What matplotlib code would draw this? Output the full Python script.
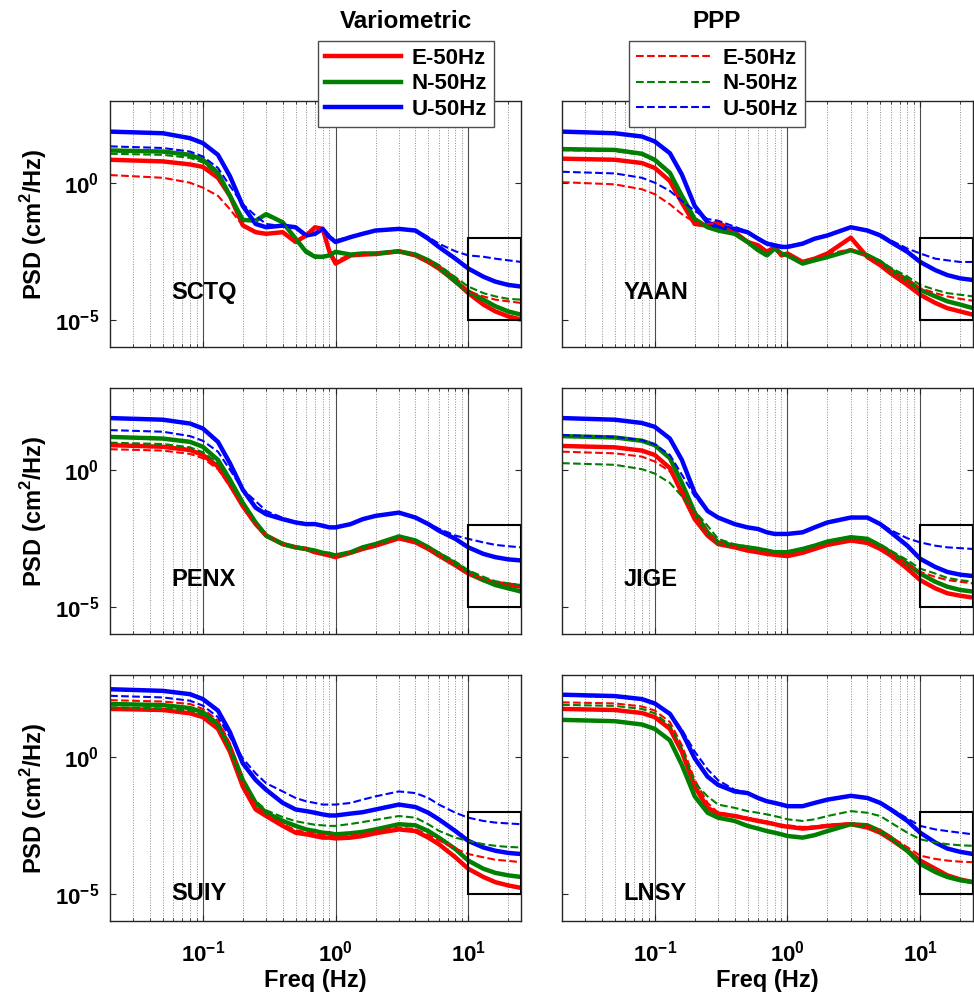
import numpy as np
import matplotlib.pyplot as plt
from matplotlib.patches import Rectangle
from matplotlib.lines import Line2D
from matplotlib.ticker import NullLocator, LogLocator

plt.rcParams['font.family'] = ['Liberation Sans', 'DejaVu Sans']
plt.rcParams['font.weight'] = 'bold'
plt.rcParams['axes.labelweight'] = 'bold'

# frequency grid (Hz) shared by all spectra
freq = [0.02, 0.05, 0.08, 0.1, 0.13, 0.16, 0.2, 0.25, 0.3, 0.4, 0.5, 0.6, 0.7, 0.8, 0.9,
        1.0, 1.3, 1.6, 2, 3, 4, 5, 6, 8, 10, 13, 16, 20, 25]

# log10 PSD (cm^2/Hz), variometric (solid) and PPP (dashed), E/N/U
sctq_var_e = [0.85, 0.79, 0.68, 0.59, 0.19, -0.47, -1.55, -1.8, -1.86, -1.8, -2.16, -1.92, -1.62, -1.68, -2.52, -2.95, -2.65, -2.62, -2.6, -2.5, -2.65, -2.89, -3.13, -3.6, -4.03, -4.45, -4.7, -4.88, -5.0]
sctq_var_n = [1.19, 1.15, 1.03, 0.85, 0.37, -0.47, -1.35, -1.38, -1.14, -1.44, -2.04, -2.52, -2.7, -2.7, -2.65, -2.52, -2.62, -2.58, -2.58, -2.5, -2.62, -2.83, -3.07, -3.61, -3.97, -4.27, -4.51, -4.7, -4.82]
sctq_var_u = [1.88, 1.82, 1.64, 1.46, 1.03, 0.25, -0.84, -1.5, -1.62, -1.56, -1.62, -1.92, -1.86, -1.68, -1.98, -2.16, -1.98, -1.86, -1.74, -1.68, -1.74, -2.04, -2.34, -2.77, -3.13, -3.43, -3.61, -3.73, -3.79]
sctq_ppp_e = [0.29, 0.19, 0.01, -0.17, -0.47, -0.96, -1.56, -1.8, -1.84, -1.82, -2.1, -1.95, -1.7, -1.72, -2.45, -2.85, -2.62, -2.6, -2.58, -2.48, -2.62, -2.85, -3.05, -3.45, -3.97, -4.15, -4.27, -4.33, -4.39]
sctq_ppp_n = [1.07, 1.03, 0.92, 0.75, 0.3, -0.5, -1.35, -1.4, -1.2, -1.45, -2.0, -2.45, -2.65, -2.68, -2.62, -2.55, -2.6, -2.56, -2.56, -2.48, -2.6, -2.8, -3.0, -3.45, -3.79, -4.03, -4.15, -4.24, -4.27]
sctq_ppp_u = [1.34, 1.28, 1.15, 0.97, 0.55, -0.11, -0.78, -1.2, -1.5, -1.58, -1.65, -1.9, -1.85, -1.7, -1.95, -2.1, -1.95, -1.84, -1.72, -1.66, -1.72, -1.98, -2.22, -2.5, -2.65, -2.7, -2.77, -2.83, -2.89]

yaan_var_e = [0.89, 0.85, 0.73, 0.55, 0.07, -0.72, -1.5, -1.56, -1.44, -1.8, -2.16, -2.28, -2.52, -2.34, -2.65, -2.58, -2.89, -2.77, -2.58, -2.0, -2.71, -3.01, -3.31, -3.73, -4.09, -4.39, -4.58, -4.7, -4.82]
yaan_var_n = [1.24, 1.21, 1.07, 0.85, 0.37, -0.47, -1.32, -1.62, -1.74, -1.86, -2.16, -2.46, -2.65, -2.4, -2.58, -2.65, -2.95, -2.83, -2.71, -2.46, -2.65, -2.89, -3.19, -3.55, -3.91, -4.15, -4.33, -4.45, -4.58]
yaan_var_u = [1.88, 1.82, 1.7, 1.52, 1.09, 0.31, -0.84, -1.44, -1.62, -1.68, -1.8, -2.04, -2.22, -2.28, -2.34, -2.34, -2.22, -2.04, -1.92, -1.62, -1.74, -1.92, -2.16, -2.52, -2.89, -3.19, -3.37, -3.49, -3.55]
yaan_ppp_e = [0.03, -0.05, -0.23, -0.41, -0.78, -1.14, -1.44, -1.5, -1.48, -1.82, -2.12, -2.3, -2.48, -2.38, -2.6, -2.6, -2.85, -2.75, -2.6, -2.42, -2.68, -2.95, -3.2, -3.55, -3.85, -4.03, -4.15, -4.24, -4.31]
yaan_ppp_n = [1.2, 1.17, 1.03, 0.8, 0.32, -0.5, -1.3, -1.58, -1.7, -1.84, -2.12, -2.4, -2.6, -2.42, -2.56, -2.62, -2.9, -2.8, -2.68, -2.44, -2.62, -2.85, -3.1, -3.42, -3.73, -3.91, -4.03, -4.09, -4.15]
yaan_ppp_u = [0.41, 0.35, 0.19, 0.01, -0.29, -0.66, -1.02, -1.32, -1.38, -1.6, -1.78, -2.0, -2.18, -2.25, -2.3, -2.3, -2.2, -2.02, -1.9, -1.62, -1.72, -1.88, -2.1, -2.4, -2.58, -2.77, -2.83, -2.89, -2.89]

penx_var_e = [0.91, 0.85, 0.73, 0.55, 0.13, -0.53, -1.32, -1.98, -2.4, -2.71, -2.83, -2.89, -3.01, -3.07, -3.13, -3.19, -3.03, -2.89, -2.77, -2.5, -2.65, -2.89, -3.13, -3.49, -3.79, -4.03, -4.15, -4.21, -4.27]
penx_var_n = [1.21, 1.15, 1.03, 0.85, 0.37, -0.35, -1.2, -1.92, -2.4, -2.71, -2.83, -2.89, -2.95, -3.03, -3.07, -3.13, -3.01, -2.83, -2.71, -2.43, -2.58, -2.83, -3.07, -3.43, -3.73, -4.03, -4.21, -4.33, -4.45]
penx_var_u = [1.9, 1.84, 1.7, 1.52, 1.03, 0.25, -0.72, -1.38, -1.62, -1.8, -1.92, -1.98, -1.98, -2.04, -2.1, -2.1, -1.98, -1.8, -1.68, -1.56, -1.74, -1.98, -2.22, -2.52, -2.83, -3.07, -3.19, -3.27, -3.31]
penx_ppp_e = [0.76, 0.71, 0.59, 0.43, 0.03, -0.6, -1.35, -1.98, -2.38, -2.7, -2.82, -2.88, -3.0, -3.05, -3.1, -3.15, -3.0, -2.87, -2.75, -2.5, -2.64, -2.87, -3.1, -3.45, -3.79, -3.97, -4.09, -4.15, -4.21]
penx_ppp_n = [1.0, 0.95, 0.83, 0.65, 0.25, -0.42, -1.22, -1.9, -2.38, -2.7, -2.82, -2.88, -2.95, -3.02, -3.06, -3.1, -3.0, -2.82, -2.7, -2.44, -2.58, -2.8, -3.02, -3.35, -3.67, -3.91, -4.07, -4.15, -4.21]
penx_ppp_u = [1.46, 1.4, 1.24, 1.07, 0.67, 0.01, -0.72, -1.14, -1.5, -1.75, -1.9, -1.96, -1.97, -2.02, -2.08, -2.08, -1.96, -1.8, -1.68, -1.56, -1.72, -1.95, -2.15, -2.4, -2.52, -2.65, -2.74, -2.79, -2.83]

jige_var_e = [0.88, 0.83, 0.71, 0.55, 0.07, -0.84, -1.8, -2.4, -2.71, -2.83, -2.95, -3.01, -3.07, -3.1, -3.13, -3.15, -3.03, -2.89, -2.74, -2.58, -2.67, -2.89, -3.13, -3.61, -4.03, -4.33, -4.51, -4.6, -4.67]
jige_var_n = [1.24, 1.19, 1.07, 0.91, 0.43, -0.47, -1.56, -2.28, -2.65, -2.77, -2.83, -2.89, -2.95, -3.01, -3.01, -3.01, -2.89, -2.77, -2.62, -2.46, -2.52, -2.77, -3.01, -3.43, -3.79, -4.09, -4.27, -4.39, -4.45]
jige_var_u = [1.9, 1.84, 1.72, 1.58, 1.15, 0.37, -0.84, -1.5, -1.74, -1.98, -2.1, -2.16, -2.28, -2.34, -2.34, -2.34, -2.28, -2.1, -1.92, -1.74, -1.74, -1.98, -2.28, -2.77, -3.25, -3.55, -3.73, -3.83, -3.88]
jige_ppp_e = [0.67, 0.61, 0.49, 0.31, -0.05, -0.72, -1.6, -2.3, -2.65, -2.8, -2.92, -2.98, -3.04, -3.07, -3.1, -3.12, -3.0, -2.86, -2.72, -2.56, -2.64, -2.85, -3.05, -3.45, -3.73, -3.91, -4.03, -4.09, -4.15]
jige_ppp_n = [0.25, 0.19, 0.03, -0.13, -0.47, -0.96, -1.5, -2.04, -2.52, -2.72, -2.8, -2.86, -2.92, -2.98, -2.98, -2.98, -2.86, -2.74, -2.6, -2.44, -2.5, -2.72, -2.95, -3.3, -3.61, -3.79, -3.95, -4.03, -4.09]
jige_ppp_u = [1.28, 1.21, 1.09, 0.94, 0.55, -0.17, -0.96, -1.5, -1.72, -1.96, -2.08, -2.14, -2.26, -2.32, -2.32, -2.32, -2.26, -2.08, -1.9, -1.72, -1.72, -1.95, -2.2, -2.5, -2.65, -2.77, -2.83, -2.86, -2.89]

suiy_var_e = [1.76, 1.72, 1.6, 1.46, 1.03, 0.19, -1.08, -1.92, -2.16, -2.52, -2.77, -2.83, -2.89, -2.95, -2.95, -2.98, -2.95, -2.89, -2.79, -2.65, -2.71, -2.95, -3.19, -3.67, -4.09, -4.39, -4.58, -4.7, -4.79]
suiy_var_n = [1.94, 1.9, 1.79, 1.64, 1.21, 0.37, -0.84, -1.68, -2.04, -2.34, -2.52, -2.65, -2.71, -2.77, -2.79, -2.83, -2.79, -2.74, -2.65, -2.46, -2.5, -2.71, -2.95, -3.37, -3.79, -4.09, -4.24, -4.33, -4.39]
suiy_var_u = [2.48, 2.42, 2.3, 2.12, 1.7, 0.91, -0.23, -0.84, -1.2, -1.68, -1.92, -1.98, -2.04, -2.1, -2.14, -2.14, -2.07, -2.02, -1.92, -1.74, -1.83, -2.04, -2.28, -2.71, -3.07, -3.31, -3.43, -3.51, -3.55]
suiy_ppp_e = [2.08, 2.03, 1.94, 1.76, 1.34, 0.5, -0.9, -1.8, -2.1, -2.45, -2.68, -2.75, -2.8, -2.85, -2.87, -2.9, -2.88, -2.82, -2.72, -2.58, -2.64, -2.85, -3.05, -3.35, -3.55, -3.67, -3.76, -3.8, -3.85]
suiy_ppp_n = [1.82, 1.78, 1.7, 1.54, 1.12, 0.3, -0.9, -1.6, -1.95, -2.2, -2.35, -2.42, -2.48, -2.5, -2.52, -2.52, -2.45, -2.38, -2.3, -2.16, -2.22, -2.46, -2.7, -2.95, -3.07, -3.19, -3.25, -3.29, -3.31]
suiy_ppp_u = [2.24, 2.18, 2.06, 1.88, 1.46, 0.73, -0.05, -0.6, -0.96, -1.26, -1.5, -1.62, -1.68, -1.74, -1.74, -1.74, -1.68, -1.56, -1.44, -1.26, -1.32, -1.5, -1.74, -2.04, -2.22, -2.34, -2.4, -2.43, -2.46]

lnsy_var_e = [1.76, 1.72, 1.61, 1.46, 1.03, 0.19, -1.08, -1.86, -2.07, -2.16, -2.26, -2.34, -2.4, -2.46, -2.52, -2.55, -2.62, -2.58, -2.52, -2.46, -2.58, -2.77, -3.01, -3.43, -3.79, -4.09, -4.33, -4.48, -4.58]
lnsy_var_n = [1.36, 1.31, 1.19, 1.03, 0.61, -0.29, -1.44, -2.04, -2.22, -2.34, -2.52, -2.62, -2.71, -2.77, -2.83, -2.89, -2.95, -2.86, -2.71, -2.46, -2.5, -2.71, -2.95, -3.43, -3.91, -4.21, -4.39, -4.51, -4.58]
lnsy_var_u = [2.28, 2.23, 2.12, 1.96, 1.58, 0.91, -0.05, -0.72, -1.02, -1.26, -1.32, -1.5, -1.62, -1.68, -1.74, -1.8, -1.8, -1.68, -1.56, -1.42, -1.5, -1.68, -1.92, -2.34, -2.77, -3.13, -3.35, -3.47, -3.55]
lnsy_ppp_e = [2.0, 1.96, 1.85, 1.7, 1.28, 0.43, -0.84, -1.68, -2.04, -2.12, -2.22, -2.3, -2.36, -2.42, -2.48, -2.5, -2.56, -2.54, -2.48, -2.42, -2.52, -2.7, -2.92, -3.3, -3.61, -3.73, -3.79, -3.83, -3.85]
lnsy_ppp_n = [1.91, 1.87, 1.76, 1.6, 1.15, 0.31, -0.96, -1.44, -1.74, -1.86, -1.98, -2.04, -2.1, -2.16, -2.22, -2.28, -2.34, -2.28, -2.16, -1.98, -2.04, -2.16, -2.4, -2.77, -3.01, -3.13, -3.19, -3.23, -3.25]
lnsy_ppp_u = [2.25, 2.2, 2.09, 1.94, 1.6, 1.0, 0.2, -0.45, -0.85, -1.2, -1.3, -1.48, -1.6, -1.66, -1.72, -1.78, -1.78, -1.66, -1.54, -1.4, -1.48, -1.65, -1.88, -2.25, -2.52, -2.65, -2.71, -2.77, -2.83]

stations = ['SCTQ', 'YAAN', 'PENX', 'JIGE', 'SUIY', 'LNSY']
label_level = [1e-4, 1e-4, 1e-4, 1e-4, 1e-5, 1e-5]
components = ['E-50Hz', 'N-50Hz', 'U-50Hz']
colors = ['#ff0000', '#007f00', '#0000ff']

spectra = {
    'SCTQ': ([sctq_var_e, sctq_var_n, sctq_var_u], [sctq_ppp_e, sctq_ppp_n, sctq_ppp_u]),
    'YAAN': ([yaan_var_e, yaan_var_n, yaan_var_u], [yaan_ppp_e, yaan_ppp_n, yaan_ppp_u]),
    'PENX': ([penx_var_e, penx_var_n, penx_var_u], [penx_ppp_e, penx_ppp_n, penx_ppp_u]),
    'JIGE': ([jige_var_e, jige_var_n, jige_var_u], [jige_ppp_e, jige_ppp_n, jige_ppp_u]),
    'SUIY': ([suiy_var_e, suiy_var_n, suiy_var_u], [suiy_ppp_e, suiy_ppp_n, suiy_ppp_u]),
    'LNSY': ([lnsy_var_e, lnsy_var_n, lnsy_var_u], [lnsy_ppp_e, lnsy_ppp_n, lnsy_ppp_u]),
}

fig = plt.figure(figsize=(9.74, 9.99), dpi=100)

col_left = [0.113, 0.577]
row_bottom = [0.6527, 0.3654, 0.0781]
ax_w, ax_h = 0.422, 0.2462

for i, name in enumerate(stations):
    row, col = divmod(i, 2)
    ax = fig.add_axes([col_left[col], row_bottom[row], ax_w, ax_h])
    var_sets, ppp_sets = spectra[name]
    for vals, c in zip(var_sets, colors):
        ax.plot(freq, 10 ** np.array(vals), color=c, lw=3.2, solid_capstyle='butt')
    for vals, c in zip(ppp_sets, colors):
        ax.plot(freq, 10 ** np.array(vals), color=c, lw=1.5, ls='--')

    ax.set_xscale('log')
    ax.set_yscale('log')
    ax.set_xlim(0.02, 25)
    ax.set_ylim(1e-6, 1e3)
    ax.set_xticks([0.1, 1, 10])
    ax.xaxis.set_minor_locator(LogLocator(base=10, subs=np.arange(2, 10)))
    ax.set_yticks([1e-5, 1])
    ax.yaxis.set_minor_locator(NullLocator())

    ax.set_axisbelow(True)
    ax.grid(which='major', axis='x', color='0.3', lw=0.8, ls='-')
    ax.grid(which='minor', axis='x', color='0.55', lw=0.7, ls=':')
    ax.grid(which='major', axis='y', visible=False)

    ax.tick_params(which='both', direction='in', top=True, right=True,
                   labelsize=16, color='0.15')
    ax.tick_params(which='major', length=4)
    ax.tick_params(which='minor', length=2)
    ax.tick_params(axis='y', pad=8)
    ax.tick_params(axis='x', pad=14)
    for s in ax.spines.values():
        s.set_color('0.15')
        s.set_linewidth(1.0)

    # zoom window over the high-frequency band
    ax.add_patch(Rectangle((10, 1e-5), 15, 1e-2 - 1e-5, fill=False,
                           ec='k', lw=1.5, zorder=5))
    ax.text(0.058, label_level[i], name, fontsize=17, va='center', ha='left')

    if col == 0:
        ax.set_ylabel('PSD (cm$^{\\mathdefault{2}}$/Hz)', fontsize=17, labelpad=4)
    else:
        ax.tick_params(labelleft=False)
    if row == 2:
        ax.set_xlabel('Freq (Hz)', fontsize=17, labelpad=2)
    else:
        ax.tick_params(labelbottom=False)

var_handles = [Line2D([], [], color=c, lw=3.2) for c in colors]
ppp_handles = [Line2D([], [], color=c, lw=1.5, ls='--') for c in colors]
leg_kw = dict(loc='center', fontsize=16, handlelength=3.4, handletextpad=0.5,
              borderpad=0.3, labelspacing=0.2, fancybox=False, framealpha=1,
              edgecolor='0.3')
leg1 = fig.legend(var_handles, components, bbox_to_anchor=(0.417, 0.916), **leg_kw)
leg2 = fig.legend(ppp_handles, components, bbox_to_anchor=(0.736, 0.916), **leg_kw)
for leg in (leg1, leg2):
    leg.get_frame().set_linewidth(1.0)

fig.text(0.417, 1 - 22 / 999, 'Variometric', ha='center', va='center', fontsize=17.5)
fig.text(0.736, 1 - 22 / 999, 'PPP', ha='center', va='center', fontsize=17.5)

fig.savefig('out.png', dpi=100)
